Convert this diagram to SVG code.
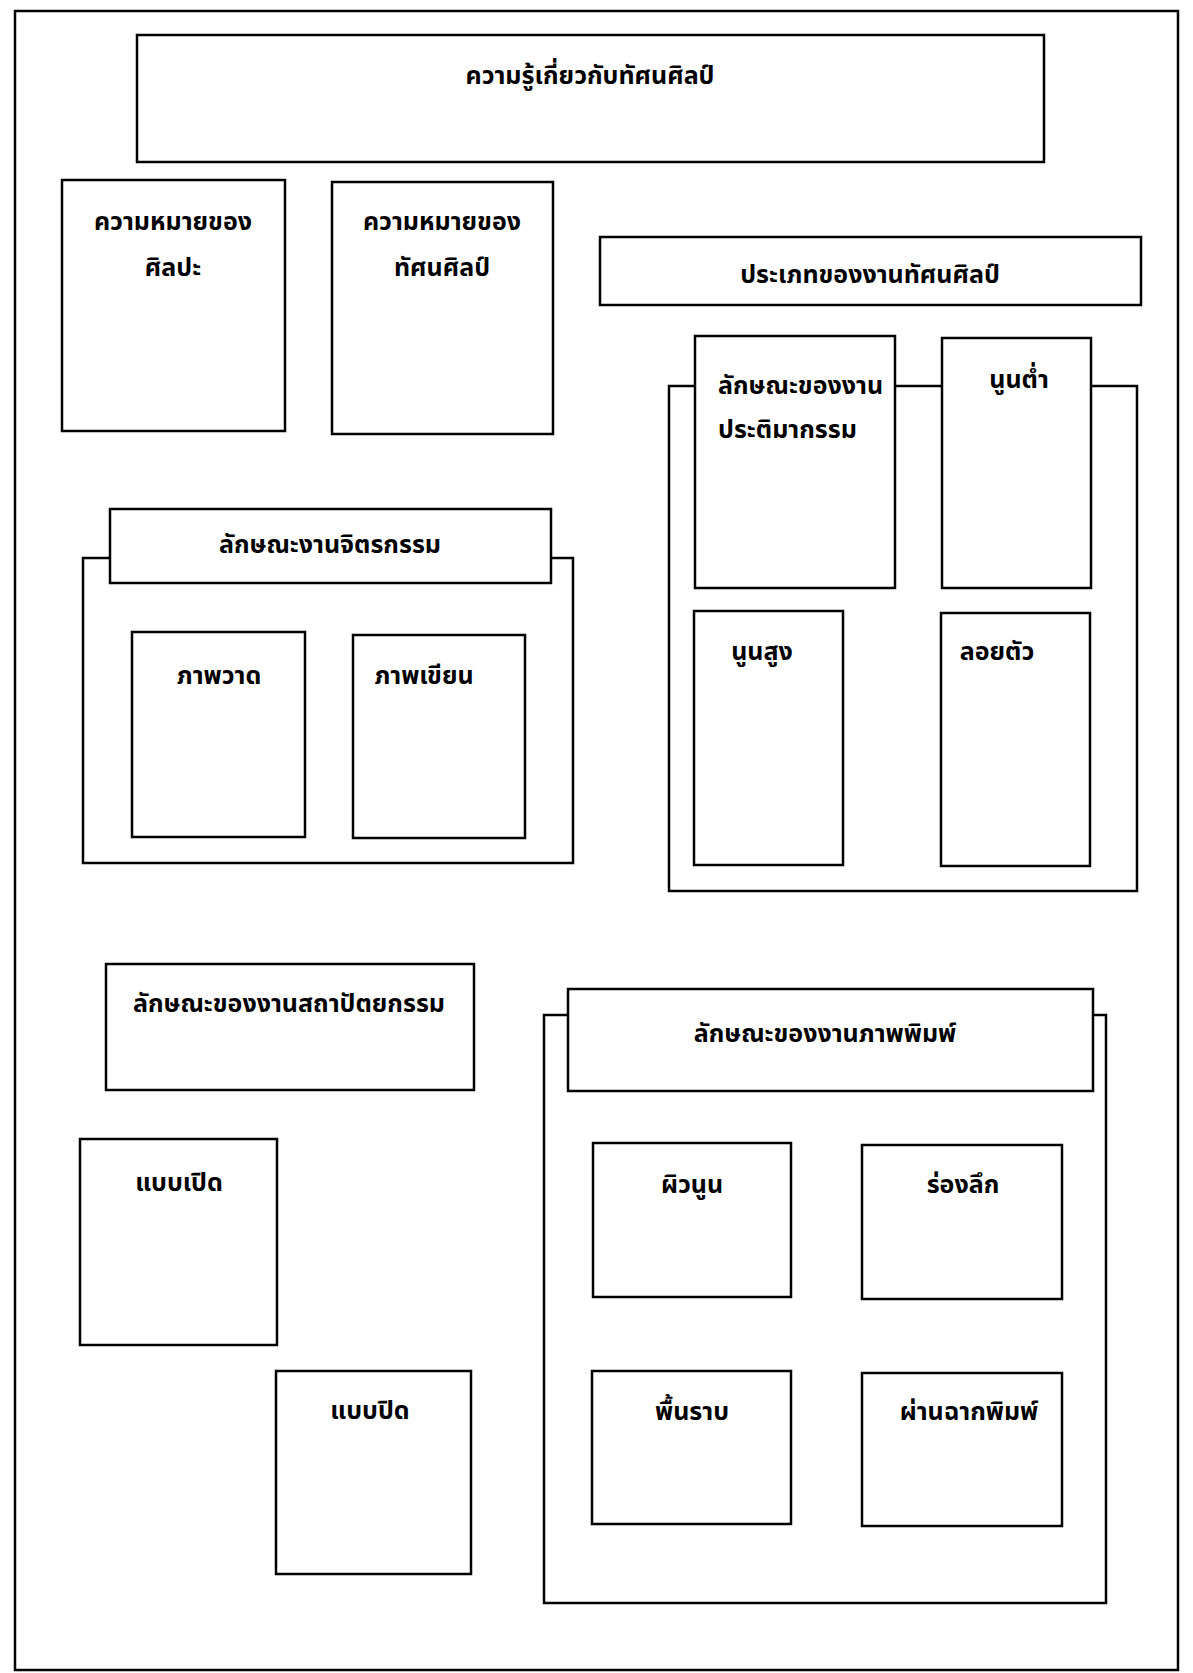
<svg xmlns="http://www.w3.org/2000/svg" width="1193" height="1673" viewBox="0 0 1193 1673">
<style>
.b{fill:#fff;stroke:#000;stroke-width:2.5}
.t{font-family:"Noto Sans Thai","Noto Sans","DejaVu Sans",sans-serif;font-size:25px;font-weight:bold;fill:#000}
.c{text-anchor:middle}
</style>
<rect x="0" y="0" width="1193" height="1673" fill="#fff"/>
<rect id="page" x="15" y="11" width="1163" height="1659" fill="none" stroke="#000" stroke-width="2.5"/>
<g id="connectors"></g>
<g id="title"><rect class="b" x="137" y="35" width="907" height="127"/><text class="t c" x="590" y="84">ความรู้เกี่ยวกับทัศนศิลป์</text></g>
<g id="meaning-art"><rect class="b" x="62" y="180" width="223" height="251"/><text class="t c" x="173" y="230">ความหมายของ</text><text class="t c" x="173" y="276">ศิลปะ</text></g>
<g id="meaning-visual"><rect class="b" x="332" y="182" width="221" height="252"/><text class="t c" x="442" y="230">ความหมายของ</text><text class="t c" x="442" y="276">ทัศนศิลป์</text></g>
<g id="types"><rect class="b" x="600" y="237" width="541" height="68"/><text class="t c" x="870" y="283">ประเภทของงานทัศนศิลป์</text></g>
<g id="sculpture-group"><rect class="b" x="669" y="386" width="468" height="505"/></g>
<g id="sculpture"><rect class="b" x="695" y="336" width="200" height="252"/><text class="t" x="718" y="394">ลักษณะของงาน</text><text class="t" x="718" y="438">ประติมากรรม</text></g>
<g id="low-relief"><rect class="b" x="942" y="338" width="149" height="250"/><text class="t c" x="1019" y="388">นูนต่ำ</text></g>
<g id="high-relief"><rect class="b" x="694" y="611" width="149" height="254"/><text class="t c" x="762" y="660">นูนสูง</text></g>
<g id="round"><rect class="b" x="941" y="613" width="149" height="253"/><text class="t c" x="997" y="660">ลอยตัว</text></g>
<g id="painting-group"><rect class="b" x="83" y="558" width="490" height="305"/></g>
<g id="painting"><rect class="b" x="110" y="509" width="441" height="74"/><text class="t c" x="330" y="553">ลักษณะงานจิตรกรรม</text></g>
<g id="drawing"><rect class="b" x="132" y="632" width="173" height="205"/><text class="t c" x="219" y="684">ภาพวาด</text></g>
<g id="writing"><rect class="b" x="353" y="635" width="172" height="203"/><text class="t c" x="424" y="684">ภาพเขียน</text></g>
<g id="architecture"><rect class="b" x="106" y="964" width="368" height="126"/><text class="t c" x="289" y="1012">ลักษณะของงานสถาปัตยกรรม</text></g>
<g id="open"><rect class="b" x="80" y="1139" width="197" height="206"/><text class="t c" x="179" y="1191">แบบเปิด</text></g>
<g id="closed"><rect class="b" x="276" y="1371" width="195" height="203"/><text class="t c" x="370" y="1419">แบบปิด</text></g>
<g id="print-group"><rect class="b" x="544" y="1015" width="562" height="588"/></g>
<g id="print"><rect class="b" x="568" y="989" width="525" height="102"/><text class="t c" x="825" y="1042">ลักษณะของงานภาพพิมพ์</text></g>
<g id="relief-print"><rect class="b" x="593" y="1143" width="198" height="154"/><text class="t c" x="692" y="1193">ผิวนูน</text></g>
<g id="intaglio"><rect class="b" x="862" y="1145" width="200" height="154"/><text class="t c" x="963" y="1193">ร่องลึก</text></g>
<g id="planographic"><rect class="b" x="592" y="1371" width="199" height="153"/><text class="t c" x="692" y="1420">พื้นราบ</text></g>
<g id="stencil"><rect class="b" x="862" y="1373" width="200" height="153"/><text class="t c" x="969" y="1420">ผ่านฉากพิมพ์</text></g>
</svg>
